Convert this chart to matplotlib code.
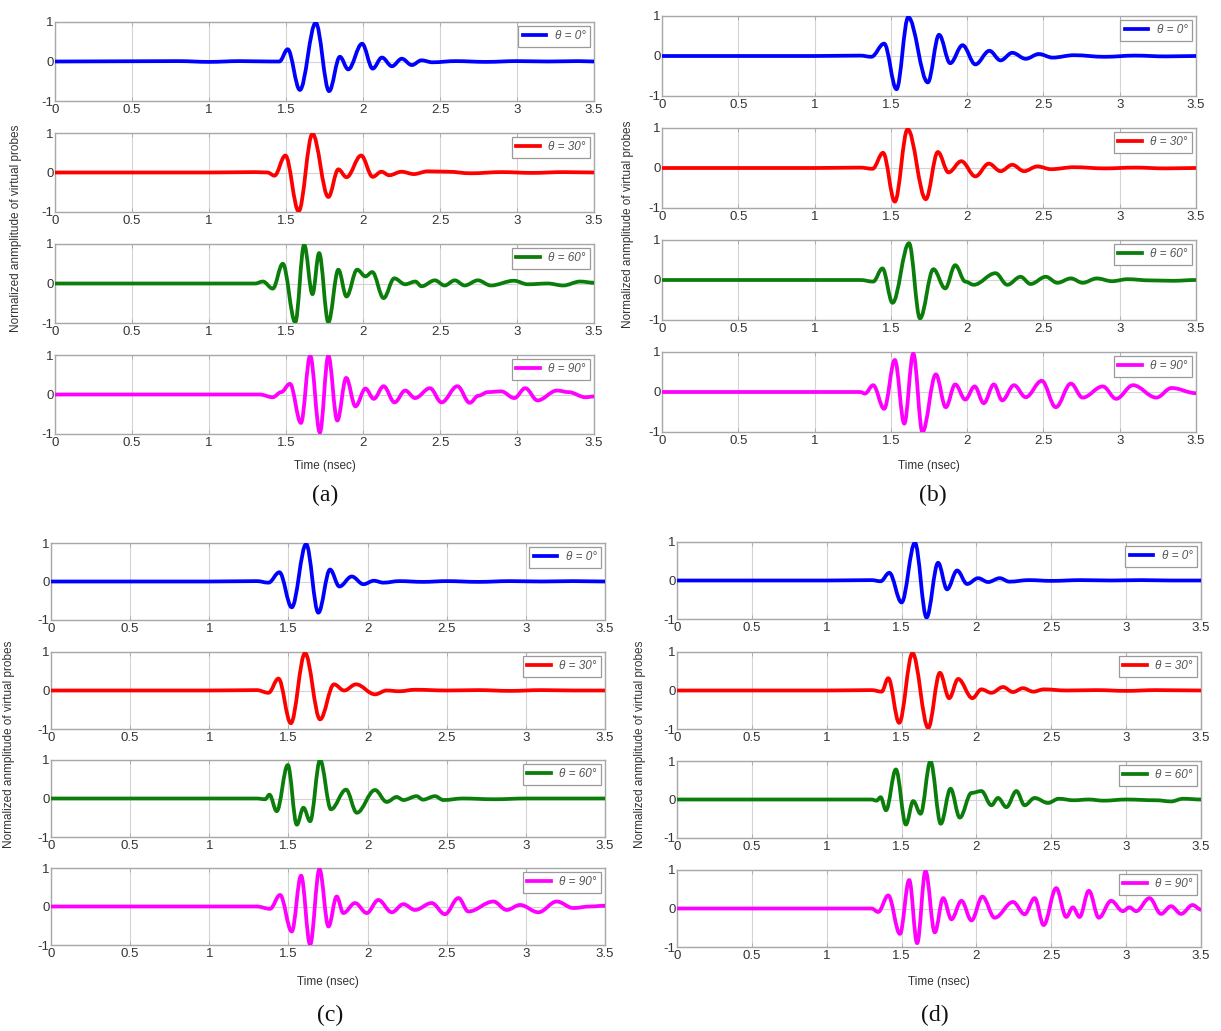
import matplotlib
matplotlib.use("Agg")
import matplotlib.pyplot as plt
from matplotlib.path import Path
from matplotlib.patches import PathPatch
from matplotlib.lines import Line2D

plt.rcParams['font.family'] = ['Liberation Sans', 'DejaVu Sans']

# ---------------- data (time in ns, normalized amplitude; extrema) ----------------
# panel (a)
a0_t = [0, 0.8, 1.0, 1.2, 1.40, 1.457, 1.511, 1.59, 1.693, 1.78, 1.85, 1.904, 1.994, 2.063, 2.123, 2.188, 2.252, 2.317, 2.38, 2.45, 2.6, 2.8, 3.0, 3.2, 3.4, 3.5]
a0_y = [0, 0.01, -0.01, 0.01, 0.0, 0.0, 0.31, -0.72, 0.98, -0.75, 0.12, -0.2, 0.45, -0.18, 0.1, -0.12, 0.07, -0.09, 0.03, -0.02, 0.01, -0.01, 0.01, 0.0, 0.01, 0.0]
a30_t = [0, 1.0, 1.3, 1.38, 1.425, 1.496, 1.582, 1.672, 1.775, 1.84, 1.893, 1.988, 2.063, 2.12, 2.17, 2.25, 2.33, 2.42, 2.55, 2.7, 2.9, 3.1, 3.3, 3.5]
a30_y = [0, 0.0, 0.01, 0.0, -0.08, 0.43, -0.98, 0.98, -0.62, 0.08, -0.12, 0.43, -0.11, 0.02, -0.07, 0.02, -0.04, 0.03, 0.02, -0.02, 0.01, -0.01, 0.01, 0.0]
a60_t = [0, 1.3, 1.35, 1.414, 1.479, 1.56, 1.618, 1.672, 1.715, 1.775, 1.84, 1.893, 1.962, 2.016, 2.06, 2.134, 2.203, 2.274, 2.34, 2.38, 2.467, 2.53, 2.596, 2.66, 2.746, 2.83, 2.98, 3.07, 3.2, 3.3, 3.41, 3.5]
a60_y = [0, 0.0, 0.05, -0.13, 0.5, -0.98, 0.98, -0.27, 0.77, -0.98, 0.35, -0.33, 0.35, 0.18, 0.29, -0.37, 0.13, -0.02, 0.05, -0.07, 0.08, -0.05, 0.08, -0.05, 0.08, -0.05, 0.07, -0.02, 0.0, -0.05, 0.05, 0.02]
a90_t = [0, 1.33, 1.414, 1.468, 1.526, 1.597, 1.657, 1.72, 1.775, 1.833, 1.891, 1.951, 2.016, 2.07, 2.134, 2.205, 2.274, 2.338, 2.435, 2.51, 2.613, 2.693, 2.75, 2.81, 2.897, 2.983, 3.054, 3.133, 3.26, 3.335, 3.445, 3.5]
a90_y = [0, 0.0, -0.07, 0.06, 0.27, -0.72, 0.98, -0.96, 0.98, -0.66, 0.42, -0.3, 0.15, -0.11, 0.21, -0.2, 0.1, -0.09, 0.16, -0.2, 0.21, -0.21, -0.03, 0.06, 0.08, -0.09, 0.16, -0.15, 0.1, 0.06, -0.07, -0.05]

# panel (b)
b0_t = [0, 1.0, 1.3, 1.372, 1.456, 1.537, 1.614, 1.742, 1.816, 1.889, 1.97, 2.054, 2.146, 2.219, 2.296, 2.384, 2.47, 2.56, 2.7, 2.9, 3.1, 3.3, 3.5]
b0_y = [0, 0.0, 0.01, -0.02, 0.31, -0.83, 0.97, -0.66, 0.53, -0.18, 0.27, -0.21, 0.13, -0.11, 0.08, -0.07, 0.05, -0.04, 0.02, -0.02, 0.01, -0.01, 0.0]
b30_t = [0, 1.0, 1.3, 1.38, 1.449, 1.526, 1.61, 1.729, 1.808, 1.878, 1.962, 2.054, 2.142, 2.219, 2.296, 2.373, 2.46, 2.55, 2.7, 2.9, 3.1, 3.3, 3.5]
b30_y = [0, 0.0, 0.01, -0.02, 0.38, -0.84, 0.97, -0.78, 0.4, -0.11, 0.17, -0.21, 0.11, -0.08, 0.08, -0.08, 0.04, -0.03, 0.02, -0.01, 0.01, -0.01, 0.0]
b60_t = [0, 1.3, 1.384, 1.445, 1.511, 1.619, 1.691, 1.779, 1.856, 1.922, 1.988, 2.043, 2.186, 2.263, 2.35, 2.416, 2.515, 2.592, 2.68, 2.757, 2.85, 2.95, 3.05, 3.2, 3.35, 3.5]
b60_y = [0, 0.0, -0.04, 0.29, -0.57, 0.92, -0.96, 0.27, -0.21, 0.37, -0.04, -0.12, 0.17, -0.12, 0.08, -0.1, 0.08, -0.07, 0.04, -0.07, 0.04, -0.03, 0.02, -0.01, -0.02, 0.0]
b90_t = [0, 1.3, 1.33, 1.384, 1.456, 1.526, 1.588, 1.647, 1.707, 1.795, 1.86, 1.922, 1.988, 2.049, 2.109, 2.175, 2.23, 2.307, 2.384, 2.489, 2.581, 2.68, 2.757, 2.889, 2.977, 3.087, 3.24, 3.34, 3.5]
b90_y = [0, 0.0, -0.04, 0.17, -0.42, 0.8, -0.79, 0.96, -1.0, 0.44, -0.38, 0.19, -0.19, 0.14, -0.28, 0.19, -0.21, 0.17, -0.13, 0.28, -0.38, 0.21, -0.14, 0.14, -0.17, 0.17, -0.14, 0.1, -0.03]

# panel (c)
c0_t = [0, 1.0, 1.3, 1.374, 1.443, 1.521, 1.612, 1.689, 1.763, 1.822, 1.9, 1.974, 2.04, 2.1, 2.2, 2.35, 2.5, 2.7, 2.9, 3.1, 3.3, 3.5]
c0_y = [0, 0.0, 0.01, -0.03, 0.24, -0.67, 0.97, -0.81, 0.31, -0.13, 0.13, -0.07, 0.02, -0.03, 0.01, -0.01, 0.01, -0.01, 0.01, 0.0, 0.01, 0.0]
c30_t = [0, 1.0, 1.3, 1.374, 1.437, 1.515, 1.605, 1.7, 1.788, 1.852, 1.927, 2.047, 2.12, 2.2, 2.3, 2.5, 2.7, 2.9, 3.1, 3.3, 3.5]
c30_y = [0, 0.0, 0.01, -0.06, 0.31, -0.85, 0.97, -0.75, 0.16, 0.0, 0.16, -0.1, 0.0, -0.02, 0.02, 0.0, 0.01, -0.01, 0.01, 0.0, 0.0]
c60_t = [0, 1.3, 1.353, 1.38, 1.426, 1.496, 1.553, 1.595, 1.637, 1.7, 1.769, 1.864, 1.932, 2.047, 2.121, 2.184, 2.226, 2.31, 2.35, 2.426, 2.479, 2.6, 2.8, 3.0, 3.3, 3.5]
c60_y = [0, 0.0, -0.02, 0.1, -0.33, 0.87, -0.68, -0.24, -0.59, 1.0, -0.28, 0.23, -0.37, 0.22, -0.09, 0.04, -0.04, 0.06, -0.03, 0.06, -0.04, 0.0, -0.02, 0.0, 0.0, 0.0]
c90_t = [0, 1.3, 1.384, 1.447, 1.521, 1.58, 1.637, 1.696, 1.753, 1.805, 1.847, 1.921, 1.995, 2.068, 2.153, 2.226, 2.3, 2.405, 2.489, 2.574, 2.637, 2.795, 2.879, 2.963, 3.079, 3.195, 3.3, 3.405, 3.5]
c90_y = [0, 0.0, -0.06, 0.3, -0.65, 0.8, -0.99, 0.97, -0.52, 0.26, -0.17, 0.09, -0.17, 0.17, -0.15, 0.06, -0.09, 0.09, -0.2, 0.22, -0.13, 0.13, -0.09, 0.04, -0.15, 0.13, -0.04, 0.0, 0.02]

# panel (d)
d0_t = [0, 1.0, 1.3, 1.36, 1.418, 1.5, 1.589, 1.667, 1.744, 1.804, 1.871, 1.938, 2.011, 2.078, 2.156, 2.22, 2.35, 2.5, 2.7, 2.9, 3.1, 3.3, 3.5]
d0_y = [0, 0.0, 0.01, -0.02, 0.2, -0.57, 0.98, -0.96, 0.46, -0.23, 0.26, -0.09, 0.06, -0.04, 0.06, -0.03, 0.01, -0.01, 0.01, 0.0, 0.01, 0.0, 0.0]
d30_t = [0, 1.0, 1.3, 1.367, 1.411, 1.484, 1.573, 1.678, 1.756, 1.818, 1.878, 1.973, 2.033, 2.1, 2.178, 2.244, 2.311, 2.38, 2.45, 2.6, 2.8, 3.0, 3.2, 3.5]
d30_y = [0, 0.0, 0.01, -0.03, 0.32, -0.84, 0.97, -0.97, 0.46, -0.2, 0.3, -0.2, 0.03, -0.06, 0.09, -0.04, 0.06, -0.03, 0.03, 0.0, 0.01, -0.01, 0.01, 0.0]
d60_t = [0, 1.3, 1.333, 1.36, 1.396, 1.462, 1.529, 1.578, 1.627, 1.693, 1.762, 1.827, 1.889, 1.967, 2.033, 2.1, 2.144, 2.2, 2.267, 2.322, 2.389, 2.478, 2.55, 2.65, 2.75, 2.85, 3.0, 3.2, 3.3, 3.38, 3.5]
d60_y = [0, 0.0, -0.03, 0.06, -0.28, 0.78, -0.65, -0.04, -0.37, 0.99, -0.63, 0.28, -0.47, 0.17, 0.22, -0.15, 0.04, -0.2, 0.22, -0.15, 0.04, -0.09, 0.02, -0.02, 0.0, -0.03, 0.0, -0.02, -0.05, 0.02, 0.0]
d90_t = [0, 1.3, 1.344, 1.411, 1.489, 1.551, 1.604, 1.66, 1.722, 1.778, 1.833, 1.9, 1.967, 2.04, 2.122, 2.244, 2.322, 2.389, 2.449, 2.533, 2.6, 2.644, 2.689, 2.751, 2.818, 2.9, 2.978, 3.022, 3.067, 3.156, 3.233, 3.3, 3.367, 3.444, 3.5]
d90_y = [0, 0.0, -0.09, 0.34, -0.66, 0.74, -0.9, 0.97, -0.62, 0.27, -0.28, 0.2, -0.31, 0.31, -0.24, 0.17, -0.15, 0.27, -0.43, 0.53, -0.22, 0.03, -0.22, 0.46, -0.24, 0.2, -0.07, 0.03, -0.07, 0.27, -0.14, 0.06, -0.14, 0.09, -0.03]

angles = [0, 30, 60, 90]
series_colors = ['#0000ff', '#ff0000', '#0a7d0a', '#ff00ff']
panel_labels = ['(a)', '(b)', '(c)', '(d)']
x_ticks = [0, 0.5, 1, 1.5, 2, 2.5, 3, 3.5]
x_tick_labels = ['0', '0.5', '1', '1.5', '2', '2.5', '3', '3.5']
y_ticks = [-1, 0, 1]
y_tick_labels = ['-1', '0', '1']
x_label = 'Time (nsec)'
y_label = 'Normalized anmplitude of virtual probes'

panel_series = [
    [(a0_t, a0_y), (a30_t, a30_y), (a60_t, a60_y), (a90_t, a90_y)],
    [(b0_t, b0_y), (b30_t, b30_y), (b60_t, b60_y), (b90_t, b90_y)],
    [(c0_t, c0_y), (c30_t, c30_y), (c60_t, c60_y), (c90_t, c90_y)],
    [(d0_t, d0_y), (d30_t, d30_y), (d60_t, d60_y), (d90_t, d90_y)],
]


def smooth_path(t, y):
    """Smooth curve through the read points: cubic Bezier segments with
    horizontal tangents at each point (the points are the wave's extrema)."""
    verts = [(t[0], y[0])]
    codes = [Path.MOVETO]
    for i in range(1, len(t)):
        dt = t[i] - t[i - 1]
        verts += [(t[i - 1] + 0.36 * dt, y[i - 1]),
                  (t[i] - 0.36 * dt, y[i]),
                  (t[i], y[i])]
        codes += [Path.CURVE4, Path.CURVE4, Path.CURVE4]
    return Path(verts, codes)


# ---------------- layout (pixels) ----------------
W, H = 1221, 1031
layout = [
    dict(l=55, r=594, tops=[22, 133, 244, 355], h=79, ylx=16, xly=466, lab=(325, 495)),
    dict(l=662, r=1196, tops=[16, 128, 240, 352], h=80, ylx=628, xly=466, lab=(933, 495)),
    dict(l=51, r=605, tops=[543, 652, 760, 868], h=77, ylx=9, xly=982, lab=(330, 1015)),
    dict(l=677, r=1201, tops=[542, 652, 761, 870], h=77, ylx=640, xly=982, lab=(935, 1015)),
]

fig = plt.figure(figsize=(W / 100, H / 100), dpi=100)
fig.patch.set_facecolor('white')

frame_col = '#a8a8a8'
tick_col = '#333333'
LW = 2.7

for p, (lay, series) in enumerate(zip(layout, panel_series)):
    for k, (t, y) in enumerate(series):
        top = lay['tops'][k]
        ax = fig.add_axes([lay['l'] / W, 1 - (top + lay['h']) / H,
                           (lay['r'] - lay['l']) / W, lay['h'] / H])
        patch = PathPatch(smooth_path(t, y), fill=False, edgecolor=series_colors[k],
                          lw=LW, joinstyle='round', capstyle='round', zorder=3)
        ax.add_patch(patch)
        ax.set_xlim(0, 3.5)
        ax.set_ylim(-1, 1)
        ax.set_xticks(x_ticks)
        ax.set_xticklabels(x_tick_labels)
        ax.set_yticks(y_ticks)
        ax.set_yticklabels(y_tick_labels)
        ax.grid(True, color='#d4d4d4', lw=0.8, ls='-')
        ax.set_axisbelow(True)
        for s in ax.spines.values():
            s.set_color(frame_col)
            s.set_linewidth(1.0)
        ax.tick_params(direction='in', length=3, width=0.6, color=frame_col,
                       labelsize=9.5, labelcolor=tick_col, pad=2,
                       top=True, right=True)
        ax.tick_params(axis='y', pad=1)
        handle = Line2D([], [], color=series_colors[k], lw=LW)
        leg = ax.legend([handle], ['θ = %d°' % angles[k]], loc='upper right', fontsize=8.5,
                        frameon=True, fancybox=False, borderaxespad=0.3,
                        handlelength=2.0, handletextpad=0.7, borderpad=0.4,
                        framealpha=1.0)
        leg.get_frame().set_edgecolor('#9a9a9a')
        leg.get_frame().set_linewidth(0.9)
        for txt in leg.get_texts():
            txt.set_fontstyle('italic')
            txt.set_color('#555555')
    ymid = (lay['tops'][0] + lay['tops'][3] + lay['h']) / 2
    fig.text(lay['ylx'] / W, 1 - ymid / H, y_label, rotation=90, ha='center',
             va='center', fontsize=8.5, color='#333333')
    fig.text(((lay['l'] + lay['r']) / 2) / W, 1 - lay['xly'] / H, x_label,
             ha='center', va='center', fontsize=8.5, color='#333333')
    fig.text(lay['lab'][0] / W, 1 - lay['lab'][1] / H, panel_labels[p],
             ha='center', va='center', fontsize=17, family='Liberation Serif',
             color='#111111')

fig.savefig('out.png', dpi=100)
